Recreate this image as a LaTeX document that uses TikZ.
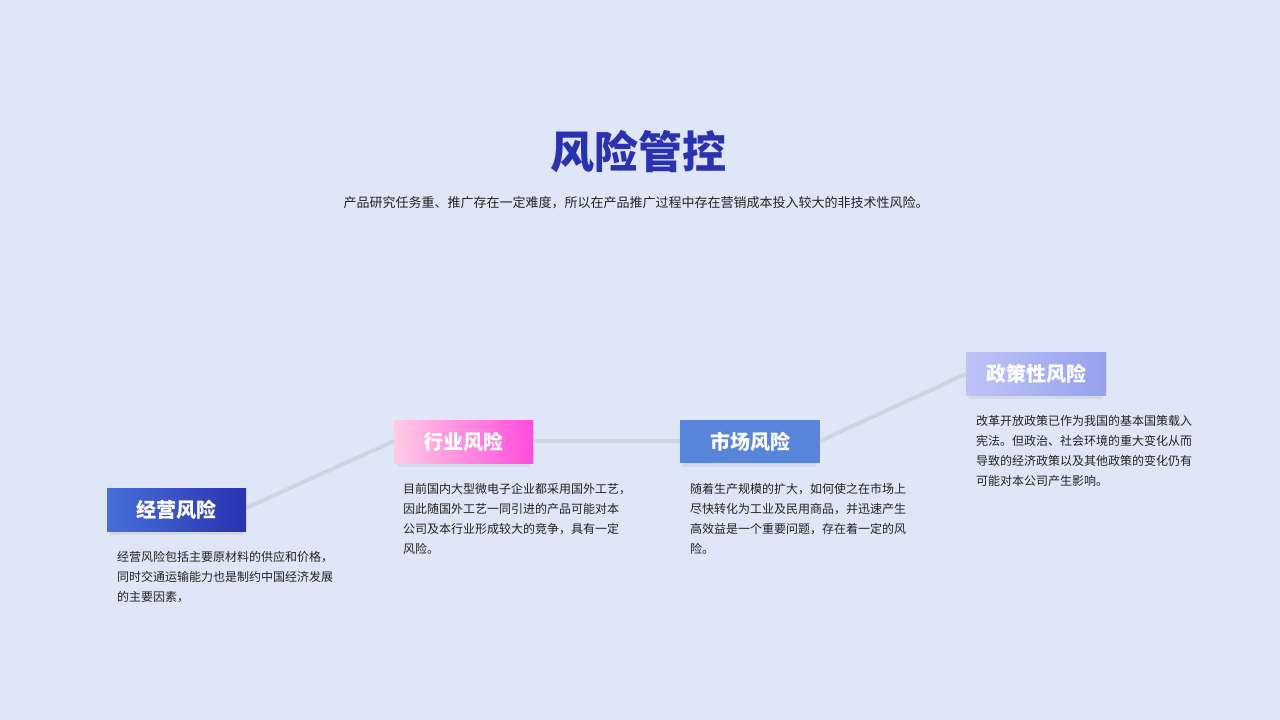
\documentclass[tikz,border=0pt]{standalone}
\usepackage{fontspec}
\newfontfamily\cjk{Noto Sans CJK SC}
\newfontfamily\cjkb{Noto Sans CJK SC Bold}
\definecolor{bg}{HTML}{DEE6F7}
\definecolor{ttl}{HTML}{2A32B0}
\definecolor{ln}{HTML}{CDD5E3}
\definecolor{tx}{HTML}{222222}
\begin{document}
\begin{tikzpicture}[x=1pt,y=-1pt,
 box/.style={minimum width=139pt,minimum height=43pt,inner sep=0pt,text=white,font=\cjk\bfseries\fontsize{20}{24}\selectfont},
 body/.style={anchor=north west,align=left,text=tx,font=\cjk\fontsize{12}{20}\selectfont,inner sep=0pt},
 conn/.style={draw=ln,line width=4pt}]
\fill[bg] (0,0) rectangle (1280,720);
\useasboundingbox (0,0) rectangle (1280,720);
\node[text=ttl,font=\cjk\bfseries\fontsize{44}{50}\selectfont] (title) at (638,152) {风险管控};
\node[text=tx,font=\cjk\fontsize{13}{16}\selectfont] (sub) at (636,203) {产品研究任务重、推广存在一定难度，所以在产品推广过程中存在营销成本投入较大的非技术性风险。};
\coordinate (c1) at (246,508);
\coordinate (c2) at (394,441);
\coordinate (c3) at (533,441);
\coordinate (c4) at (680,441);
\coordinate (c5) at (820,441);
\coordinate (c6) at (966,374);
\draw[conn] (c1) -- (c2);
\draw[conn] (c3) -- (c4);
\draw[conn] (c5) -- (c6);
\foreach \x/\y in {107/488,394/420,680/420,966/352}{
 \fill[ln!70!bg] (\x+3,\y+43) rectangle (\x+136,\y+47);}
\shade[left color=blue!55!cyan!40!ttl!80!white,right color=ttl] (107,488) rectangle (246,531);
\shade[left color=pink!80!magenta!50!white,right color=magenta!80!red!70!white] (394,420) rectangle (533,463);
\fill[blue!45!cyan!30!ttl!40!white!90!black] (680,420) rectangle (820,463);
\fill[fill={rgb,255:red,88;green,133;blue,218}] (680,420) rectangle (820,463);
\shade[left color={rgb,255:red,190;green,196;blue,247},right color={rgb,255:red,150;green,160;blue,238}] (966,352) rectangle (1106,395);
\node[box] (b1) at (176.5,509.5) {经营风险};
\node[box] (b2) at (463.5,441.5) {行业风险};
\node[box] (b3) at (750,441.5) {市场风险};
\node[box] (b4) at (1036,373.5) {政策性风险};
\node[body] (t1) at (117,551) {经营风险包括主要原材料的供应和价格，\\同时交通运输能力也是制约中国经济发展\\的主要因素，};
\node[body] (t2) at (403,483) {目前国内大型微电子企业都采用国外工艺，\\因此随国外工艺一同引进的产品可能对本\\公司及本行业形成较大的竞争，具有一定\\风险。};
\node[body] (t3) at (690,483) {随着生产规模的扩大，如何使之在市场上\\尽快转化为工业及民用商品，并迅速产生\\高效益是一个重要问题，存在着一定的风\\险。};
\node[body] (t4) at (976,415) {改革开放政策已作为我国的基本国策载入\\宪法。但政治、社会环境的重大变化从而\\导致的经济政策以及其他政策的变化仍有\\可能对本公司产生影响。};
\end{tikzpicture}
\end{document}
